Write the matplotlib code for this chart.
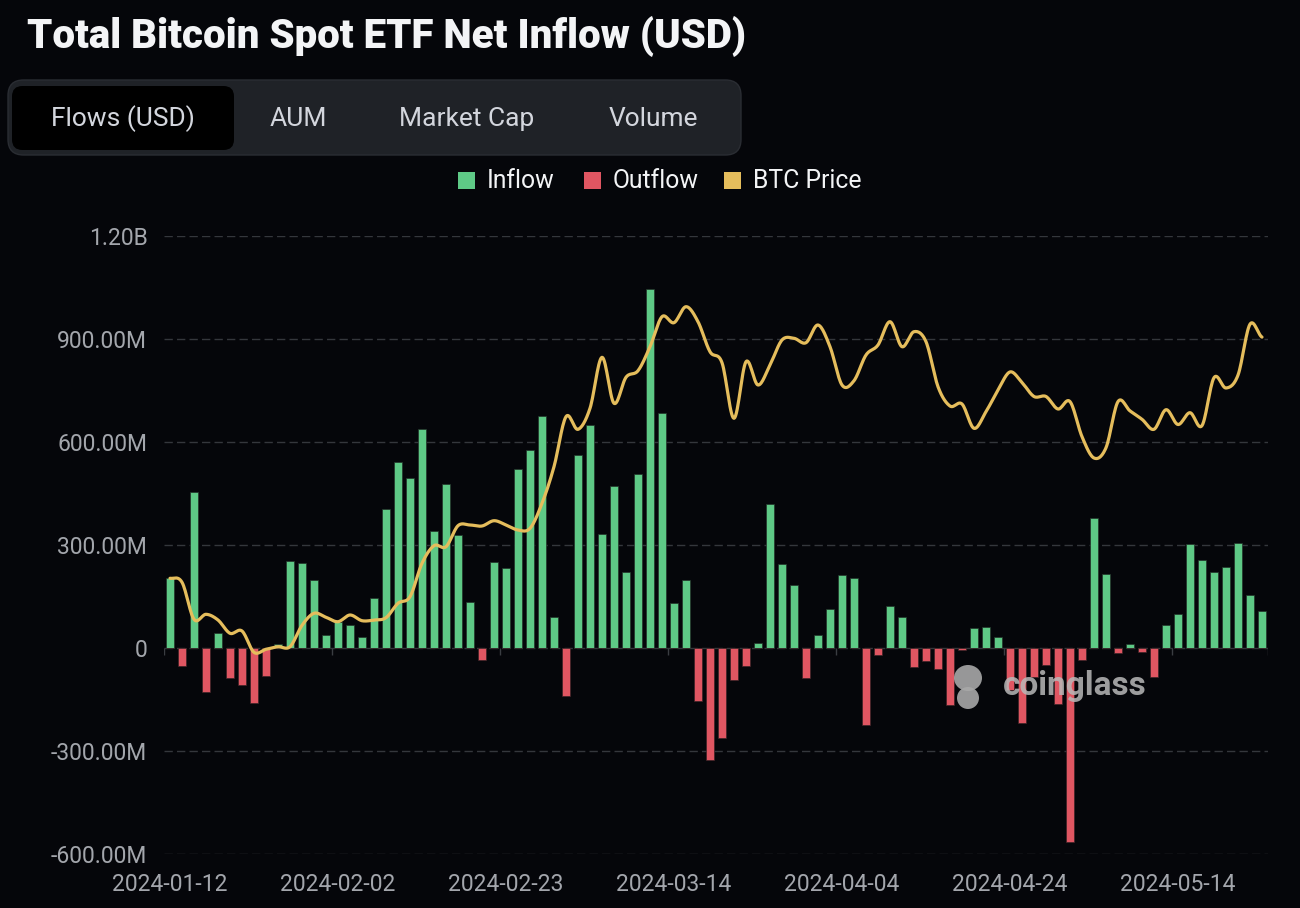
import numpy as np
import pandas as pd
import matplotlib
matplotlib.use('Agg')
import matplotlib.pyplot as plt
from matplotlib.patches import FancyBboxPatch, Rectangle, Ellipse
from matplotlib.ticker import FuncFormatter, FixedLocator

# ---------------- data ----------------
HOLIDAYS = ['2024-01-15', '2024-02-19', '2024-03-29']
dates = pd.bdate_range('2024-01-12', periods=92, freq='C',
                       holidays=HOLIDAYS).strftime('%Y-%m-%d').tolist()

tick_labels = ['2024-01-12', '2024-02-02', '2024-02-23', '2024-03-14',
               '2024-04-04', '2024-04-24', '2024-05-14']

# daily net flow, millions USD
flows_m = [203, -53, 453, -127, 43, -87, -107, -159, -81, 12,
           254, 247, 197, 38, 76, 67, 33, 146, 405, 543,
           494, 637, 340, 478, 330, 135, -36, 251, 232, 520,
           578, 675, 91, -140, 563, 650, 331, 473, 222, 506,
           1047, 684, 132, 198, -155, -327, -263, -94, -51, 15,
           418, 244, 183, -86, 39, 114, 214, 203, -225, -19,
           123, 90, -56, -38, -60, -165, -5, 58, 61, 31,
           -121, -218, -84, -50, -162, -564, -34, 378, 216, -15,
           11, -11, -85, 67, 100, 303, 257, 221, 237, 305,
           153, 107]

# BTC price, USD
btc_price = [46767, 46379, 42786, 43272, 42718, 41427, 41650, 39580, 39874, 40126,
             40126, 42200, 43369, 42981, 42553, 43204, 42650, 42718, 42942, 44340,
             44981, 48223, 49932, 49835, 51874, 51942, 51845, 52359, 51942, 51456,
             51618, 54045, 57605, 62460, 61230, 63272, 68222, 63757, 66282, 66922,
             69252, 72165, 71583, 73136, 71680, 68767, 67699, 62300, 67796, 65534,
             67476, 69903, 70068, 69641, 71359, 69252, 65534, 65951, 68447, 69417,
             71680, 69252, 70709, 69738, 65369, 63495, 63689, 61328, 62945, 65049,
             66800, 65777, 64417, 64417, 63204, 63922, 60515, 58447, 59447, 63922,
             63019, 62204, 61233, 63136, 61699, 62845, 61592, 66243, 65243, 66495,
             71437, 70184]

legend_labels = ['Inflow', 'Outflow', 'BTC Price']
tab_labels = ['Flows (USD)', 'AUM', 'Market Cap', 'Volume']
title = 'Total Bitcoin Spot ETF Net Inflow (USD)'

# ---------------- style ----------------
BG = '#05060a'
GREEN = '#5ec986'
RED = '#e05662'
GOLD = '#e5bd5c'
GRID = '#34373c'
LABEL = '#a3a6ac'

W, H = 1300, 908
fig = plt.figure(figsize=(W / 100, H / 100), dpi=100, facecolor=BG)


def fx(px):
    return px / W


def fy(py):
    return 1 - py / H


# title
fig.text(fx(27), fy(36), title, color='#f3f4f6', fontsize=29.0,
         fontweight='black', family='Roboto', va='center', ha='left')

# tabs
fig.patches.append(FancyBboxPatch((fx(8), fy(155)), fx(733), (155 - 80) / H,
                                  boxstyle='round,pad=0,rounding_size=0.012',
                                  transform=fig.transFigure, facecolor='#1f2227',
                                  edgecolor='#2a2d33', linewidth=1.0,
                                  mutation_aspect=W / H))
fig.patches.append(FancyBboxPatch((fx(12), fy(150)), fx(222), (150 - 86) / H,
                                  boxstyle='round,pad=0,rounding_size=0.008',
                                  transform=fig.transFigure, facecolor='#000000',
                                  edgecolor='none', mutation_aspect=W / H))
tab_x = [123, 298, 467, 653]
for lbl, tx in zip(tab_labels, tab_x):
    fig.text(fx(tx), fy(119), lbl, color='#d3d6dd', fontsize=19,
             family='Roboto', ha='center', va='center')

# legend
leg_colors = [GREEN, RED, GOLD]
leg_sq_x = [458, 584, 724]
for lbl, c, sx in zip(legend_labels, leg_colors, leg_sq_x):
    fig.patches.append(Rectangle((fx(sx), fy(189)), fx(17), 17 / H,
                                 transform=fig.transFigure, facecolor=c,
                                 edgecolor='none'))
    fig.text(fx(sx + 29), fy(181), lbl, color='#f3f4f6', fontsize=17.8,
             family='Roboto', ha='left', va='center')

# ---------------- chart ----------------
ax = fig.add_axes([fx(164), (H - 854) / H, fx(1104), (854 - 236) / H])
ax.set_facecolor(BG)
x = np.arange(len(flows_m))
flows = np.array(flows_m, dtype=float) * 1e6
inflow = np.where(flows > 0, flows, 0)
outflow = np.where(flows < 0, flows, 0)
ax.bar(x, inflow, width=0.67, color=GREEN, edgecolor='#243229', linewidth=0.5, zorder=3)
ax.bar(x, outflow, width=0.67, color=RED, edgecolor='#3a2226', linewidth=0.5, zorder=3)

ax.set_xlim(-0.5, len(flows_m) - 0.5)
ax.set_ylim(-600e6, 1200e6)
ax.yaxis.set_major_locator(FixedLocator(np.arange(-600e6, 1200e6 + 1, 300e6)))


def fmt(v, pos):
    if abs(v) < 1:
        return '0'
    if abs(v) >= 1e9:
        return f'{v / 1e9:.2f}B'
    return f'{v / 1e6:.2f}M'


ax.yaxis.set_major_formatter(FuncFormatter(fmt))
ax.yaxis.grid(True, linestyle=(0, (6, 3)), color=GRID, linewidth=1.0, zorder=0)
ax.set_axisbelow(True)
for s in ax.spines.values():
    s.set_visible(False)

tick_idx = [dates.index(d) for d in tick_labels]
ax.set_xticks(tick_idx)
ax.set_xticklabels(tick_labels)
ax.tick_params(axis='x', length=0, pad=14, labelcolor=LABEL, labelsize=16.5)
ax.tick_params(axis='y', length=0, pad=12, labelcolor=LABEL, labelsize=16.5)
for lab in ax.get_xticklabels() + ax.get_yticklabels():
    lab.set_family('Roboto')
ax.vlines([i - 0.5 for i in tick_idx] + [len(flows_m) - 0.5], -20e6, 0,
          color='#3a3d42', linewidth=1.0, zorder=2)

# price line on hidden secondary axis (smoothed Catmull-Rom rendering)
ax2 = ax.twinx()
ax2.set_ylim(20000, 80000)
ax2.axis('off')
p = np.array(btc_price, dtype=float)
pe = np.concatenate([[p[0]], p, [p[-1]]])
xs, ys = [], []
t = np.linspace(0, 1, 16)
for i in range(len(p) - 1):
    p0, p1, p2, p3 = pe[i], pe[i + 1], pe[i + 2], pe[i + 3]
    seg = 0.5 * ((2 * p1) + (-p0 + p2) * t + (2 * p0 - 5 * p1 + 4 * p2 - p3) * t ** 2
                 + (-p0 + 3 * p1 - 3 * p2 + p3) * t ** 3)
    xs.append(i + t)
    ys.append(seg)
ax2.plot(np.concatenate(xs), np.concatenate(ys), color=GOLD, linewidth=2.3,
         solid_capstyle='round', zorder=5)

# watermark
fig.patches.append(Ellipse((fx(968), fy(678)), fx(28), 26 / H, transform=fig.transFigure,
                           facecolor='#a8a8a8', edgecolor='none', alpha=0.9))
fig.patches.append(Ellipse((fx(968), fy(698)), fx(22), 22 / H, transform=fig.transFigure,
                           facecolor='#a8a8a8', edgecolor='none', alpha=0.9))
fig.text(fx(1003), fy(686), 'coinglass', color='#b9b9b9', alpha=0.85, fontsize=24,
         fontweight='bold', family='Roboto', ha='left', va='center')

fig.savefig('out.png', dpi=100, facecolor=BG)
